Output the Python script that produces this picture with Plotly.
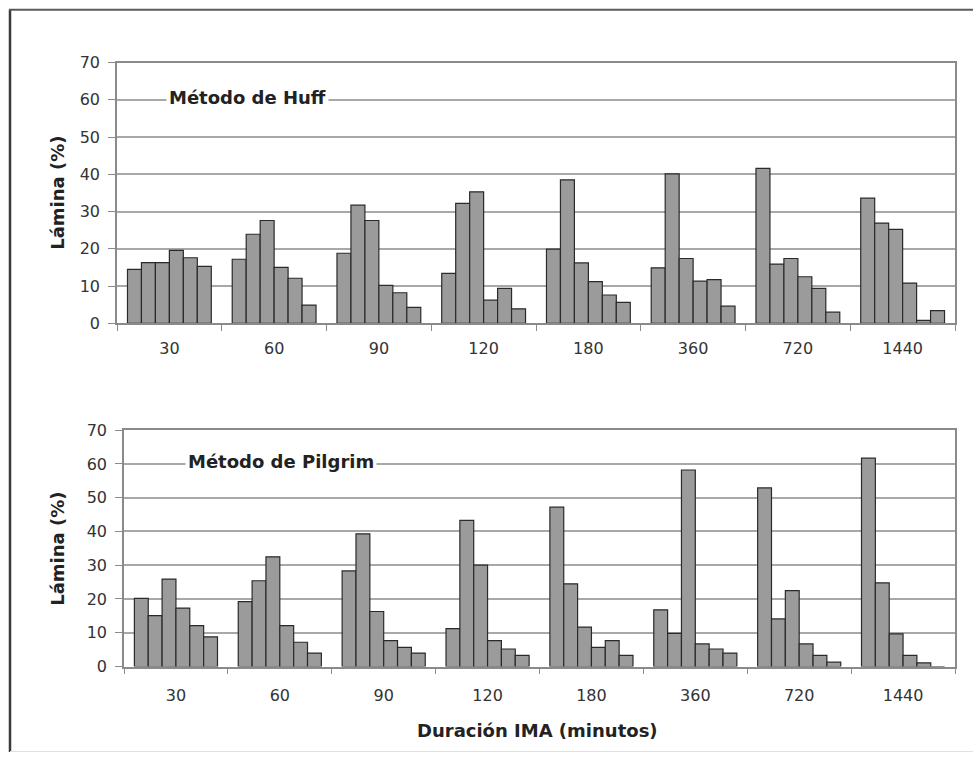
import plotly.graph_objects as go

categories = ["30", "60", "90", "120", "180", "360", "720", "1440"]
y_ticks = [0, 10, 20, 30, 40, 50, 60, 70]

# six consecutive intervals per storm duration (Huff)
huff_values = [
    [14.5, 16.3, 16.3, 19.6, 17.6, 15.3],
    [17.2, 23.9, 27.6, 15.0, 12.1, 4.9],
    [18.8, 31.7, 27.6, 10.2, 8.2, 4.3],
    [13.4, 32.2, 35.3, 6.2, 9.4, 3.9],
    [19.9, 38.5, 16.2, 11.2, 7.6, 5.6],
    [14.9, 40.1, 17.4, 11.3, 11.7, 4.6],
    [41.6, 15.9, 17.4, 12.5, 9.4, 3.0],
    [33.6, 26.9, 25.2, 10.8, 0.8, 3.4],
]

# six consecutive intervals per storm duration (Pilgrim)
pilgrim_values = [
    [20.2, 15.1, 25.9, 17.3, 12.1, 8.8],
    [19.2, 25.4, 32.5, 12.1, 7.2, 4.0],
    [28.3, 39.3, 16.3, 7.7, 5.7, 4.0],
    [11.2, 43.3, 30.0, 7.7, 5.2, 3.3],
    [47.2, 24.5, 11.7, 5.7, 7.7, 3.3],
    [16.8, 9.8, 58.2, 6.7, 5.2, 4.0],
    [52.9, 14.1, 22.5, 6.7, 3.3, 1.3],
    [61.7, 24.8, 9.7, 3.3, 1.1, 0.0],
]

W, H = 973, 762
FONT = "DejaVu Sans"
BAR_FILL = "#9b9b9b"
BAR_EDGE = "#2a2a2a"
GRID = "#a8a8a8"

# observed capture offset / vertical squeeze of the photographed page
CAP_OFF, CAP_SCALE = 8.2, 0.975


def px(x):
    return x / W


def py(y):
    yy = (y - CAP_OFF) / CAP_SCALE
    yy = min(max(yy, 0.5), H - 0.5)
    return 1 - yy / H


fig = go.Figure()

for i in range(6):
    fig.add_trace(go.Bar(
        x=categories, y=[row[i] for row in huff_values],
        xaxis="x", yaxis="y",
        marker=dict(color=BAR_FILL, line=dict(color=BAR_EDGE, width=1.2)),
        showlegend=False, hoverinfo="x+y",
    ))
for i in range(6):
    fig.add_trace(go.Bar(
        x=categories, y=[row[i] for row in pilgrim_values],
        xaxis="x2", yaxis="y2",
        marker=dict(color=BAR_FILL, line=dict(color=BAR_EDGE, width=1.2)),
        showlegend=False, hoverinfo="x+y",
    ))

xcommon = dict(
    type="category", showline=True, linecolor="#8a8a8a", linewidth=1.5,
    mirror=True, ticks="outside", tickson="boundaries", ticklen=6,
    tickcolor="#8a8a8a", showgrid=False, zeroline=False,
    tickfont=dict(family=FONT, size=16, color="#333333"),
    range=[-0.5, 7.5],
)
ycommon = dict(
    range=[0, 70], tickvals=y_ticks, showline=True, linecolor="#8a8a8a",
    linewidth=1.5, mirror=True, ticks="outside", ticklen=7,
    tickcolor="#8a8a8a", showgrid=True, gridcolor=GRID, gridwidth=1.5,
    zeroline=False, tickfont=dict(family=FONT, size=16, color="#333333"),
    ticklabelstandoff=5,
)

fig.update_layout(
    width=W, height=H, autosize=False,
    margin=dict(l=0, r=0, t=0, b=0),
    paper_bgcolor="white", plot_bgcolor="white",
    barmode="group", bargap=0.2, bargroupgap=0,
    xaxis=dict(domain=[px(117), px(955)], anchor="y",
               ticklabelstandoff=10, **xcommon),
    yaxis=dict(domain=[py(322.5), py(61.7)], anchor="x", **ycommon),
    xaxis2=dict(domain=[px(124), px(955)], anchor="y2",
                ticklabelstandoff=14, **xcommon),
    yaxis2=dict(domain=[py(665.7), py(429.3)], anchor="x2", **ycommon),
)

title_font = dict(family=FONT, size=18, color="#222222")
fig.add_annotation(text="<b>Método de Huff</b>", xref="paper", yref="y",
                   x=px(166), y=60, xanchor="left", yanchor="middle",
                   yshift=2, showarrow=False, bgcolor="white", borderpad=2,
                   font=title_font)
fig.add_annotation(text="<b>Método de Pilgrim</b>", xref="paper", yref="y2",
                   x=px(185), y=60, xanchor="left", yanchor="middle",
                   yshift=2, showarrow=False, bgcolor="white", borderpad=2,
                   font=title_font)
fig.add_annotation(text="<b>Lámina (%)</b>", xref="paper", yref="paper",
                   x=px(58), y=py(192), xanchor="center", yanchor="middle",
                   textangle=-90, showarrow=False, font=title_font)
fig.add_annotation(text="<b>Lámina (%)</b>", xref="paper", yref="paper",
                   x=px(58), y=py(548), xanchor="center", yanchor="middle",
                   textangle=-90, showarrow=False, font=title_font)
fig.add_annotation(text="<b>Duración IMA (minutos)</b>", xref="paper",
                   yref="paper", x=px(537), y=py(730), xanchor="center",
                   yanchor="middle", showarrow=False, font=title_font)

# outer frame
fig.add_shape(type="line", xref="paper", yref="paper",
              x0=px(10), x1=px(10), y0=py(7), y1=0,
              line=dict(color="#3a3a3a", width=2.5))
fig.add_shape(type="line", xref="paper", yref="paper",
              x0=px(9), x1=1, y0=py(9), y1=py(9),
              line=dict(color="#5a5a5a", width=2))
fig.add_shape(type="line", xref="paper", yref="paper",
              x0=px(10), x1=1, y0=py(761), y1=py(761),
              line=dict(color="#e0e0e0", width=1))

fig.write_html(
    "out.html",
    config={"displayModeBar": False, "responsive": False},
    post_script=(
        "var d=document.getElementById('{plot_id}');"
        "d.style.position='fixed';d.style.top='0px';d.style.left='0px';"
        "document.documentElement.style.margin='0';"
        "document.documentElement.style.padding='0';"
        "document.body.style.margin='0';document.body.style.padding='0';"
        "document.documentElement.style.overflow='hidden';"
        "document.body.style.overflow='hidden';"
    ),
)
